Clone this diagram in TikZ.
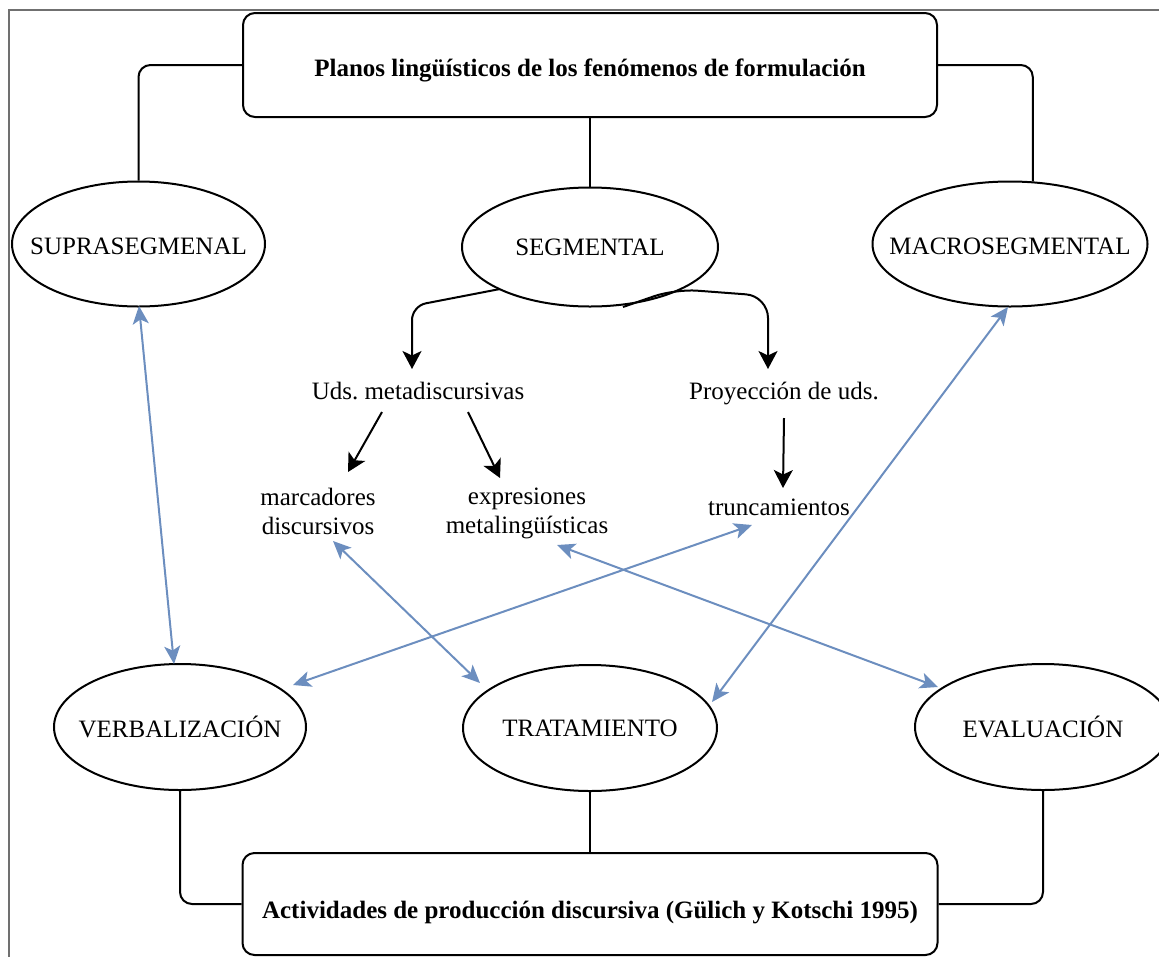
\documentclass[tikz,border=0pt]{standalone}
\usepackage{fontspec}
\setmainfont{Liberation Serif}
\usetikzlibrary{arrows.meta,shapes.geometric}
\frenchspacing

\definecolor{linkblue}{HTML}{6C8EBF}
\definecolor{framegray}{HTML}{707070}

\tikzset{
  plainfont/.style={font=\fontsize{25}{29}\selectfont},
  boldfont/.style={font=\fontsize{25}{30}\selectfont\bfseries},
  ell/.style={ellipse, draw, line width=2pt, inner sep=0pt, plainfont},
  titlebox/.style={rectangle, rounded corners=12pt, draw, line width=2pt,
    inner sep=0pt, minimum width=694pt, minimum height=104pt, boldfont},
  label/.style={inner sep=0pt, align=center, plainfont},
  onelabel/.style={label, text height=18pt, text depth=6pt},
  conn/.style={line width=2pt, rounded corners=12pt},
  blk/.style={line width=2pt, -{Stealth[length=18pt,width=19pt,inset=4.5pt]}},
  lnk/.style={linkblue, line width=2pt,
    {Stealth[length=18pt,width=16pt,inset=4.5pt]}-{Stealth[length=18pt,width=16pt,inset=4.5pt]}}
}

\begin{document}
\begin{tikzpicture}[x=1pt,y=-1pt]
  \useasboundingbox (0,0) rectangle (1159,956);
  \clip (0,0) rectangle (1159,956);

  % outer frame
  \draw[framegray, line width=1.4pt] (9,970) -- (9,10) -- (1175,10);

  % title boxes
  \node[titlebox, text height=24pt, text depth=2pt] (top) at (590,65)
    {Planos lingüísticos de los fenómenos de formulación};
  \node[titlebox, minimum width=695pt, minimum height=102pt, text height=28pt, text depth=0pt] (bot) at (590,904)
    {Actividades de producción discursiva (Gülich y Kotschi 1995)};

  % upper ellipses
  \node[ell, minimum width=253pt, minimum height=125pt, text height=20pt, text depth=0pt] (supra) at (138.5,244)
    {\makebox[0pt]{SUPRASEGMENAL}};
  \node[ell, minimum width=256pt, minimum height=119pt] (seg) at (590,247) {\makebox[0pt]{SEGMENTAL}};
  \node[ell, minimum width=275pt, minimum height=125pt, text height=20pt, text depth=0pt] (macro) at (1010,244)
    {\makebox[0pt]{MACROSEGMENTAL}};

  % lower ellipses
  \node[ell, minimum width=252pt, minimum height=126pt] (verb) at (180,727) {\makebox[0pt]{VERBALIZACIÓN}};
  \node[ell, minimum width=254pt, minimum height=126pt] (trat) at (590,728) {\makebox[0pt]{TRATAMIENTO}};
  \node[ell, minimum width=256pt, minimum height=126pt] (eval) at (1043,727) {\makebox[0pt]{EVALUACIÓN}};

  % inner labels
  \node[onelabel] (uds) at (418,393) {Uds. metadiscursivas};
  \node[onelabel] (proy) at (784,393) {Proyección de uds.};
  \node[label] (marc) at (318,511) {marcadores\\discursivos};
  \node[label] (expr) at (527,513) {expresiones\\metalingüísticas};
  \node[onelabel] (trunc) at (779,509) {truncamientos};

  % tree connectors
  \draw[conn] (top.west) -| (supra.north);
  \draw[conn] (top.east) -| (macro.70);
  \draw[conn] (top.south) -- (seg.north);
  \draw[conn] (verb.south) |- (bot.west);
  \draw[conn] (eval.south) |- (bot.east);
  \draw[conn] (trat.south) -- (bot.north);

  % segmental branches
  \draw[blk, rounded corners=14pt] ([shift={(-90,42)}]seg.center)
    -- ([shift={(-6,-87)}]uds.center) -- ([shift={(-6,-24)}]uds.center);
  \draw[blk, rounded corners=22pt] ([shift={(33,60)}]seg.center)
    -- ([shift={(85,42)}]seg.center) -- ([shift={(-16,-97)}]proy.center)
    -- ([shift={(-16,-24)}]proy.center);

  % subordinate units
  \draw[blk] ([shift={(-36,19)}]uds.center) -- ([shift={(30,-39)}]marc.center);
  \draw[blk] ([shift={(50,19)}]uds.center) -- ([shift={(-27,-35)}]expr.center);
  \draw[blk] ([shift={(0,25)}]proy.center) -- ([shift={(4,-21)}]trunc.center);

  % cross links to the production activities
  \draw[lnk] ([shift={(0.5,62)}]supra.center) -- ([shift={(-6,-63)}]verb.center);
  \draw[lnk] ([shift={(15,30)}]marc.center) -- ([shift={(-110,-45)}]trat.center);
  \draw[lnk] ([shift={(-27,16)}]trunc.center) -- ([shift={(113,-42)}]verb.center);
  \draw[lnk] ([shift={(30,32)}]expr.center) -- ([shift={(-105,-40)}]eval.center);
  \draw[lnk] ([shift={(-2,63)}]macro.center) -- ([shift={(122,-26)}]trat.center);
\end{tikzpicture}
\end{document}
